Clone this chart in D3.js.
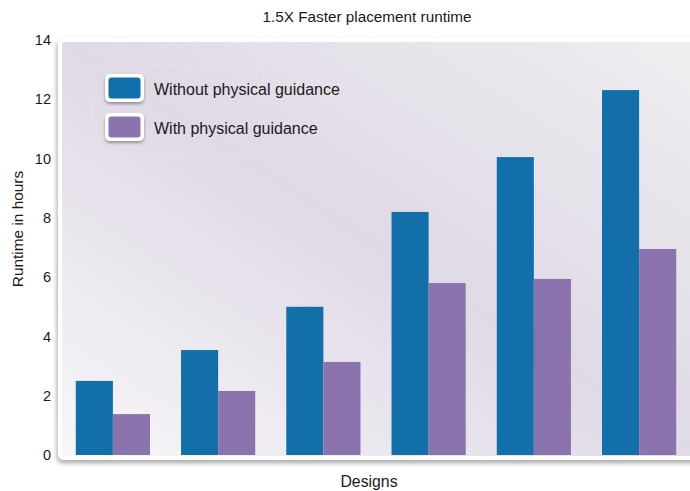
<!DOCTYPE html>
<html><head><meta charset="utf-8">
<script src="https://cdn.jsdelivr.net/npm/d3@7"></script>
<style>body{margin:0;background:#fff}svg{display:block}text{font-family:"Liberation Sans",Arial,sans-serif;fill:#1a1a1a}</style>
</head><body>
<script>
const designs = ["D1","D2","D3","D4","D5","D6"];
const seriesNames = ["Without physical guidance","With physical guidance"];
const without = [2.5, 3.54, 5.0, 8.2, 10.05, 12.31];
const withG = [1.38, 2.16, 3.14, 5.8, 5.94, 6.95];
const yTicks = [0,2,4,6,8,10,12,14];
const colors = ["#136FAA","#8B74AE"];

const W=690,H=491;
const svg=d3.select("body").append("svg").attr("width",W).attr("height",H);
const defs=svg.append("defs");
const g=defs.append("linearGradient").attr("id","bg").attr("x1","0").attr("y1","1").attr("x2","1").attr("y2","0");
g.append("stop").attr("offset","0").attr("stop-color","#F7F7F8");
g.append("stop").attr("offset","0.5").attr("stop-color","#E0D9E6");
g.append("stop").attr("offset","1").attr("stop-color","#EEEEF0");
const f=defs.append("filter").attr("id","sh").attr("x","-5%").attr("y","-5%").attr("width","110%").attr("height","115%");
f.append("feDropShadow").attr("dx",-1).attr("dy",3).attr("stdDeviation",2.5).attr("flood-color","#000").attr("flood-opacity",0.35);
const f2=defs.append("filter").attr("id","sh2").attr("x","-20%").attr("y","-20%").attr("width","140%").attr("height","160%");
f2.append("feDropShadow").attr("dx",0).attr("dy",2).attr("stdDeviation",1.5).attr("flood-color","#000").attr("flood-opacity",0.35);

const y=d3.scaleLinear().domain([0,14]).range([455,40]);
const x0=d3.scaleBand().domain(designs).range([60,692]).paddingInner(0.295).paddingOuter(0.15);
const x1=d3.scaleBand().domain([0,1]).range([0,x0.bandwidth()]);

// panel
svg.append("rect").attr("x",58).attr("y",38).attr("width",650).attr("height",422).attr("rx",6)
  .attr("fill","#fff").attr("filter","url(#sh)");
svg.append("rect").attr("x",62).attr("y",42).attr("width",640).attr("height",414).attr("rx",3).attr("fill","url(#bg)");

// y axis
const ya=svg.append("g").attr("transform","translate(51,0)")
  .call(d3.axisLeft(y).tickValues(yTicks).tickSize(0).tickPadding(0));
ya.select(".domain").remove();
ya.selectAll("text").style("font-size","14.5px").attr("fill","#1a1a1a").attr("font-family","Liberation Sans, Arial, sans-serif");

// bars
const data=designs.map((d,i)=>({d,v:[without[i],withG[i]]}));
const grp=svg.append("g").selectAll("g").data(data).join("g").attr("transform",d=>`translate(${x0(d.d)},0)`);
grp.selectAll("rect").data(d=>d.v.map((v,k)=>({v,k}))).join("rect")
  .attr("x",d=>x1(d.k)).attr("width",x1.bandwidth()).attr("y",d=>y(d.v)).attr("height",d=>y(0)-y(d.v))
  .attr("fill",d=>colors[d.k]);

// legend
svg.append("rect").attr("x",93).attr("y",67).attr("width",170).attr("height",88).attr("fill","none").attr("stroke","#fff").attr("stroke-opacity",0.12);
const lg=svg.append("g").selectAll("g").data(seriesNames).join("g").attr("transform",(d,i)=>`translate(105,${74+i*39})`);
lg.append("rect").attr("width",39).attr("height",28).attr("rx",5).attr("fill","#fff").attr("filter","url(#sh2)");
lg.append("rect").attr("x",3.5).attr("y",3.5).attr("width",32).attr("height",21).attr("rx",3).attr("fill",(d,i)=>colors[i]);
lg.append("text").attr("x",49).attr("y",21).style("font-size","16px").text(d=>d);

// titles
svg.append("text").attr("x",367).attr("y",22).attr("text-anchor","middle").style("font-size","15.3px").text("1.5X Faster placement runtime");
svg.append("text").attr("x",369).attr("y",487).attr("text-anchor","middle").style("font-size","15.8px").text("Designs");
svg.append("text").attr("transform","translate(23,229) rotate(-90)").attr("text-anchor","middle").style("font-size","15.4px").text("Runtime in hours");
</script>
</body></html>
